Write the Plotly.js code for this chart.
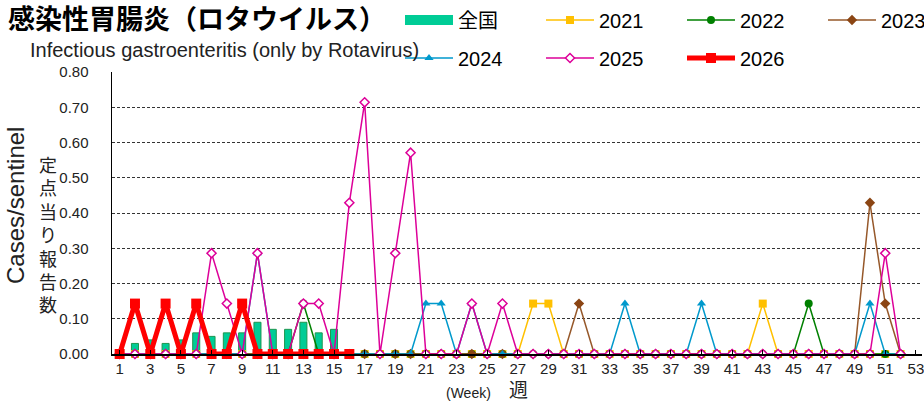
<!DOCTYPE html>
<html>
<head>
<meta charset="utf-8">
<script src="https://cdn.plot.ly/plotly-3.0.1.min.js"></script>
<style>html,body{margin:0;padding:0;background:#fff}#chart{width:924px;height:403px}</style>
</head>
<body>
<div id="chart"></div>
<script>
// ---- data ----
var weeks = [];
for (var w = 1; w <= 52; w++) weeks.push(w);
var weeks2026 = [1,2,3,4,5,6,7,8,9,10,11,12,13,14,15,16];
var weeksNational = [1,2,3,4,5,6,7,8,9,10,11,12,13,14,15];
var national = [0.01,0.03,0.04,0.03,0.04,0.06,0.05,0.06,0.06,0.09,0.07,0.07,0.09,0.06,0.07];
var y2021 = [0,0,0,0,0,0,0,0,0,0,0,0,0,0,0,0,0,0,0,0,0,0,0,0,0,0,0,0.143,0.143,0,0,0,0,0,0,0,0,0,0,0,0,0,0.143,0,0,0,0,0,0,0,0,0];
var y2022 = [0,0,0,0,0,0,0,0,0,0,0,0,0.143,0,0,0,0,0,0,0,0,0,0,0,0,0,0,0,0,0,0,0,0,0,0,0,0,0,0,0,0,0,0,0,0,0.143,0,0,0,0,0,0];
var y2023 = [0,0,0,0,0,0,0,0,0,0,0,0,0,0,0,0,0,0,0,0,0,0,0,0,0,0,0,0,0,0,0.143,0,0,0,0,0,0,0,0,0,0,0,0,0,0,0,0,0,0,0.429,0.143,0];
var y2024 = [0,0,0,0,0,0,0,0,0,0.286,0,0,0,0,0,0,0,0,0,0,0.143,0.143,0,0.143,0,0,0,0,0,0,0,0,0,0.143,0,0,0,0,0.143,0,0,0,0,0,0,0,0,0,0,0.143,0,0];
var y2025 = [0,0,0,0,0,0,0.286,0.143,0,0.286,0,0,0.143,0.143,0,0.429,0.714,0,0.286,0.571,0,0,0,0.143,0,0.143,0,0,0,0,0,0,0,0,0,0,0,0,0,0,0,0,0,0,0,0,0,0,0,0,0.286,0];
var y2026 = [0,0.143,0,0.143,0,0.143,0,0,0.143,0,0,0,0,0,0,0];
var yTickVals = [0,0.1,0.2,0.3,0.4,0.5,0.6,0.7,0.8];
var yTitleJa = ['定','点','当','り','報','告','数'];

// ---- geometry ----
var W = 924, H = 403, L = 112, R = 2, T = 72, B = 49;
var PW = W - L - R, PH = H - T - B;
function px(x) { return (x - L) / PW; }
function py(y) { return (H - B - y) / PH; }

var traces = [
  {type:'bar', x: weeksNational, y: national, name:'全国', showlegend:false,
   marker:{color:'#00CC96', line:{color:'#1E9650', width:1}}, hoverinfo:'skip'},
  {type:'scatter', mode:'lines', x:[null], y:[null], name:'全国', legend:'legend',
   line:{color:'#00CC96', width:10}, hoverinfo:'skip'},
  {type:'scatter', mode:'lines+markers', x: weeks, y: y2021, name:'2021', legend:'legend',
   line:{color:'#FFC000', width:1.5}, marker:{symbol:'square', size:8, color:'#FFC000'}, cliponaxis:false},
  {type:'scatter', mode:'lines+markers', x: weeks, y: y2022, name:'2022', legend:'legend',
   line:{color:'#008000', width:1.5}, marker:{symbol:'circle', size:8, color:'#008000'}, cliponaxis:false},
  {type:'scatter', mode:'lines+markers', x: weeks, y: y2023, name:'2023', legend:'legend',
   line:{color:'#96582A', width:1.5}, marker:{symbol:'diamond', size:8, color:'#8B4513'}, cliponaxis:false},
  {type:'scatter', mode:'lines+markers', x: weeks, y: y2024, name:'2024', legend:'legend2',
   line:{color:'#0099CC', width:1.5}, marker:{symbol:'triangle-up', size:8, color:'#0099CC'}, cliponaxis:false},
  {type:'scatter', mode:'lines+markers', x: weeks, y: y2025, name:'2025', legend:'legend2',
   line:{color:'#DD0099', width:1.5}, marker:{symbol:'diamond', size:7, color:'#FFFFFF', line:{color:'#DD0099', width:1.5}}, cliponaxis:false},
  {type:'scatter', mode:'lines+markers', x: weeks2026, y: y2026, name:'2026', legend:'legend2',
   line:{color:'#FF0000', width:5}, marker:{symbol:'square', size:10, color:'#FF0000'}, cliponaxis:false}
];

var legendCommon = {orientation:'h', xanchor:'left', yanchor:'middle', bgcolor:'rgba(0,0,0,0)',
  font:{family:'Liberation Sans, Arial, Noto Sans CJK JP', size:20, color:'#000'},
  itemwidth:48, entrywidth:78, traceorder:'normal'};

var annotations = [
  {text:'Infectious gastroenteritis (only by Rotavirus)', xref:'paper', yref:'paper', x:px(28), y:py(50),
   xanchor:'left', yanchor:'middle', showarrow:false, font:{family:'Liberation Sans, Arial', size:20, color:'#222'}},
  {text:'Cases/sentinel', xref:'paper', yref:'paper', x:px(15), y:py(206), textangle:-90,
   xanchor:'center', yanchor:'middle', showarrow:false, font:{family:'Liberation Sans, Arial', size:24, color:'#222'}},
  {text:'(Week)', xref:'paper', yref:'paper', x:px(468), y:py(393),
   xanchor:'center', yanchor:'middle', showarrow:false, font:{family:'Liberation Sans, Arial', size:14, color:'#222'}},
  {text:'週', xref:'paper', yref:'paper', x:px(518), y:py(388),
   xanchor:'center', yanchor:'middle', showarrow:false, font:{family:'Noto Sans CJK JP', size:19, color:'#222'}},
  {text: yTitleJa.join('<br>'), xref:'paper', yref:'paper', x:px(48), y:py(234),
   xanchor:'center', yanchor:'middle', align:'center', showarrow:false,
   font:{family:'Noto Sans CJK JP', size:18, color:'#222'}}
];

var layout = {
  width: W, height: H,
  margin:{l:L, r:R, t:T, b:B, pad:0, autoexpand:false},
  paper_bgcolor:'#fff', plot_bgcolor:'#fff',
  font:{family:'Liberation Sans, Arial', color:'#222'},
  title:{text:'感染性胃腸炎（ロタウイルス）', x:8/W, xanchor:'left', xref:'container',
         y:1 - 20/H, yanchor:'middle', yref:'container',
         font:{family:'Noto Sans CJK JP', size:27, weight:'bold', color:'#000'}},
  bargap:0.54,
  showlegend:true,
  legend: Object.assign({}, legendCommon, {x:px(400), y:py(20)}),
  legend2: Object.assign({}, legendCommon, {x:px(400), y:py(58)}),
  xaxis:{range:[0.5, 53.4], tick0:1, dtick:2, showgrid:false, zeroline:false,
         showline:true, linecolor:'#000', linewidth:1.5, ticks:'inside', ticklen:4, tickcolor:'#000',
         ticklabeloverflow:'allow', tickfont:{size:15, color:'#222'}, fixedrange:true},
  yaxis:{range:[0, 0.8], tickvals:yTickVals, tickformat:'.2f', showgrid:true, gridcolor:'#333',
         griddash:'3px,2px', gridwidth:1, zeroline:false, showline:true, linecolor:'#000', linewidth:1.5,
         ticks:'', ticklabelstandoff:19, tickfont:{size:15, color:'#222'}, fixedrange:true},
  annotations: annotations
};

Plotly.newPlot('chart', traces, layout, {staticPlot:true, displayModeBar:false});
</script>
</body>
</html>
